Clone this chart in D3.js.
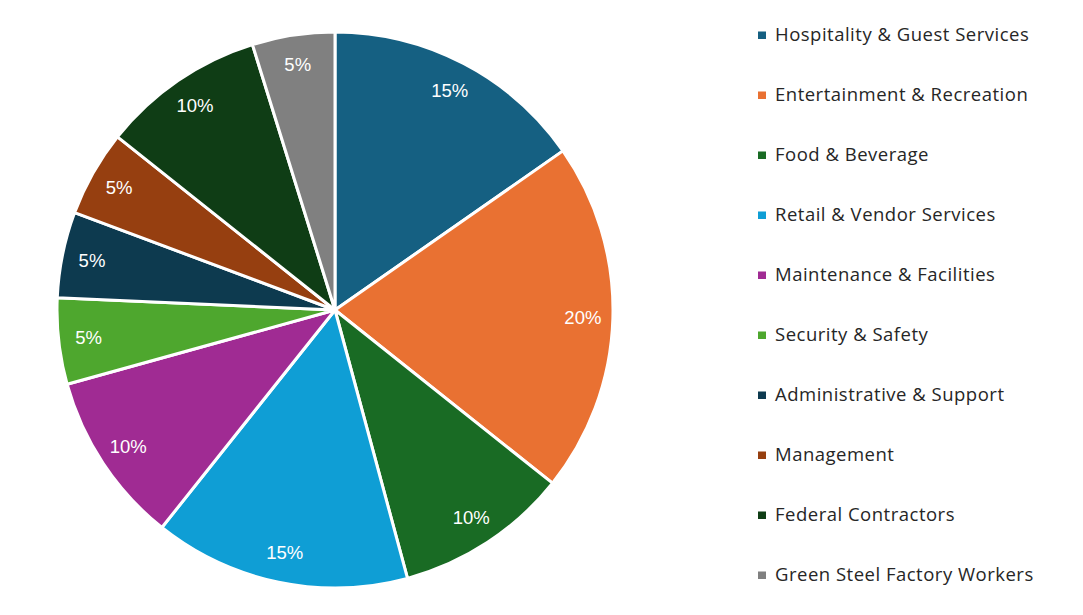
<!DOCTYPE html>
<html>
<head>
<meta charset="utf-8">
<script src="https://d3js.org/d3.v7.min.js"></script>
<style>
  body { margin: 0; background: #fff; }
</style>
</head>
<body>
<div id="main"></div>
<script>
const width = 1083;
const height = 615;

// data (slice shares in %, labels shown rounded)
const categories = [
  "Hospitality & Guest Services",
  "Entertainment & Recreation",
  "Food & Beverage",
  "Retail & Vendor Services",
  "Maintenance & Facilities",
  "Security & Safety",
  "Administrative & Support",
  "Management",
  "Federal Contractors",
  "Green Steel Factory Workers"
];
const shares = [15.3, 20.4, 10.1, 14.9, 10.0, 5.0, 5.0, 5.0, 9.5, 4.8];
const colors = [
  "#156082", "#e97132", "#196b24", "#0f9ed5", "#a02b93",
  "#4ea72e", "#0d3a4f", "#963f10", "#0f3d15", "#808080"
];

const svg = d3.select("#main")
  .append("svg")
  .attr("width", width)
  .attr("height", height);

const cx = 335, cy = 310, radius = 278;

const total = d3.sum(shares);
const pie = d3.pie().sort(null).value(d => d.value);
const rows = categories.map((c, i) => ({ name: c, value: shares[i], color: colors[i] }));
const arcs = pie(rows);

const arc = d3.arc().innerRadius(0).outerRadius(radius);
const labelArc = d3.arc().innerRadius(248).outerRadius(248);

const g = svg.append("g").attr("transform", "translate(" + cx + "," + cy + ")");

g.selectAll("path")
  .data(arcs)
  .enter().append("path")
  .attr("d", arc)
  .attr("fill", d => d.data.color)
  .attr("stroke", "#fff")
  .attr("stroke-width", 3)
  .attr("stroke-linejoin", "round");

g.selectAll("text")
  .data(arcs)
  .enter().append("text")
  .attr("transform", d => "translate(" + labelArc.centroid(d) + ")")
  .attr("text-anchor", "middle")
  .attr("dy", ".35em")
  .style("font-family", "'Liberation Sans', Arial, sans-serif")
  .style("font-size", "18.5px")
  .style("fill", "#fff")
  .text(d => Math.round(d.data.value / total * 100) + "%");

// legend
const legend = svg.append("g");
const y = d3.scalePoint().domain(categories).range([35, 575]);

const item = legend.selectAll("g")
  .data(rows)
  .enter().append("g")
  .attr("transform", d => "translate(758," + y(d.name) + ")");

item.append("rect")
  .attr("x", 0)
  .attr("y", -3.5)
  .attr("width", 8)
  .attr("height", 7.5)
  .attr("fill", d => d.color);

item.append("text")
  .attr("x", 17)
  .attr("dy", ".35em")
  .style("font-family", "'Open Sans', 'Noto Sans', sans-serif")
  .style("font-size", "18.5px")
  .style("letter-spacing", "0.5px")
  .style("fill", "#262626")
  .text(d => d.name);
</script>
</body>
</html>
